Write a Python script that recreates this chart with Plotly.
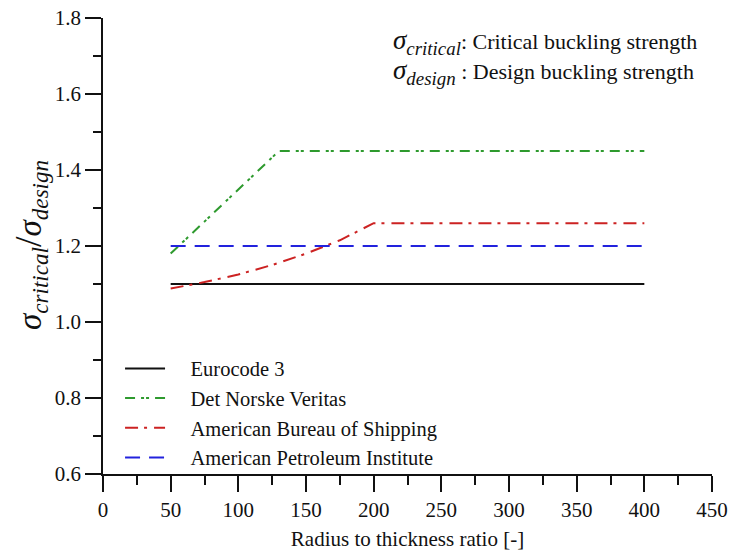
import plotly.graph_objects as go

FONT = "Liberation Serif"
NB = "\u00a0" * 4

x_ec3 = [50, 400]
y_ec3 = [1.10, 1.10]

x_dnv = [50, 130, 400]
y_dnv = [1.18, 1.45, 1.45]

x_abs = [50, 75, 100, 125, 150, 175, 200, 400]
y_abs = [1.088, 1.105, 1.125, 1.15, 1.18, 1.215, 1.26, 1.26]

x_api = [50, 400]
y_api = [1.20, 1.20]

names = ["Eurocode 3", "Det Norske Veritas", "American Bureau of Shipping", "American Petroleum Institute"]

fig = go.Figure()
fig.add_trace(go.Scatter(x=x_ec3, y=y_ec3, mode="lines", name=NB + names[0],
                         line=dict(color="#111111", width=2, dash="solid")))
fig.add_trace(go.Scatter(x=x_dnv, y=y_dnv, mode="lines", name=NB + names[1],
                         line=dict(color="#2e9a2e", width=2, dash="10px,6px,3px,2px,3px,6px")))
fig.add_trace(go.Scatter(x=x_abs, y=y_abs, mode="lines", name=NB + names[2],
                         line=dict(color="#cc2222", width=2, dash="13px,6px,3px,7px")))
fig.add_trace(go.Scatter(x=x_api, y=y_api, mode="lines", name=NB + names[3],
                         line=dict(color="#2222dd", width=2, dash="15px,9px")))

fig.update_layout(
    width=731, height=555,
    margin=dict(l=103, r=19, t=18, b=81, autoexpand=False),
    paper_bgcolor="white", plot_bgcolor="white",
    font=dict(family=FONT, size=21, color="#111111"),
    showlegend=True,
    legend=dict(x=0.028, y=0.275, xanchor="left", yanchor="top",
                bgcolor="rgba(0,0,0,0)", borderwidth=0,
                font=dict(family=FONT, size=20.5), itemwidth=40),
    xaxis=dict(range=[0, 450], dtick=50, tick0=0, showgrid=False, zeroline=False, automargin=False,
               showline=True, linecolor="#111111", linewidth=1.5,
               ticks="outside", ticklen=16, tickwidth=1.5, tickcolor="#111111",
               minor=dict(dtick=25, ticks="outside", ticklen=9, tickwidth=1.5, tickcolor="#111111", showgrid=False),
               tickfont=dict(family=FONT, size=21),
               title=dict(text="Radius to thickness ratio [-]", font=dict(family=FONT, size=21), standoff=10)),
    yaxis=dict(range=[0.6, 1.8], dtick=0.2, tick0=0.6, tickformat=".1f", showgrid=False, zeroline=False,
               automargin=False,
               showline=True, linecolor="#111111", linewidth=1.5,
               ticks="outside", ticklen=16, tickwidth=1.5, tickcolor="#111111",
               minor=dict(dtick=0.1, ticks="outside", ticklen=8, tickwidth=1.5, tickcolor="#111111", showgrid=False),
               tickfont=dict(family=FONT, size=21)),
)

fig.add_annotation(xref="paper", yref="paper", x=(30 - 103) / 609, y=1 - (245 - 18) / 456,
                   xanchor="center", yanchor="middle",
                   textangle=-90, showarrow=False,
                   text="<i>σ</i><sub><i>critical</i></sub><span style='font-size:38px'>/</span><i>σ</i><sub><i>design</i></sub>",
                   font=dict(family=FONT, size=33))

fig.add_annotation(xref="paper", yref="paper", x=(391 - 103) / 609, y=1 - (42 - 18) / 456,
                   xanchor="left", yanchor="middle", showarrow=False, align="left",
                   text="<span style='font-size:27px'><i>σ</i><sub><i>critical</i></sub></span>: Critical buckling strength",
                   font=dict(family=FONT, size=22))
fig.add_annotation(xref="paper", yref="paper", x=(391 - 103) / 609, y=1 - (72 - 18) / 456,
                   xanchor="left", yanchor="middle", showarrow=False, align="left",
                   text="<span style='font-size:27px'><i>σ</i><sub><i>design</i></sub></span> : Design buckling strength",
                   font=dict(family=FONT, size=22))

fig.write_html("out.html")
